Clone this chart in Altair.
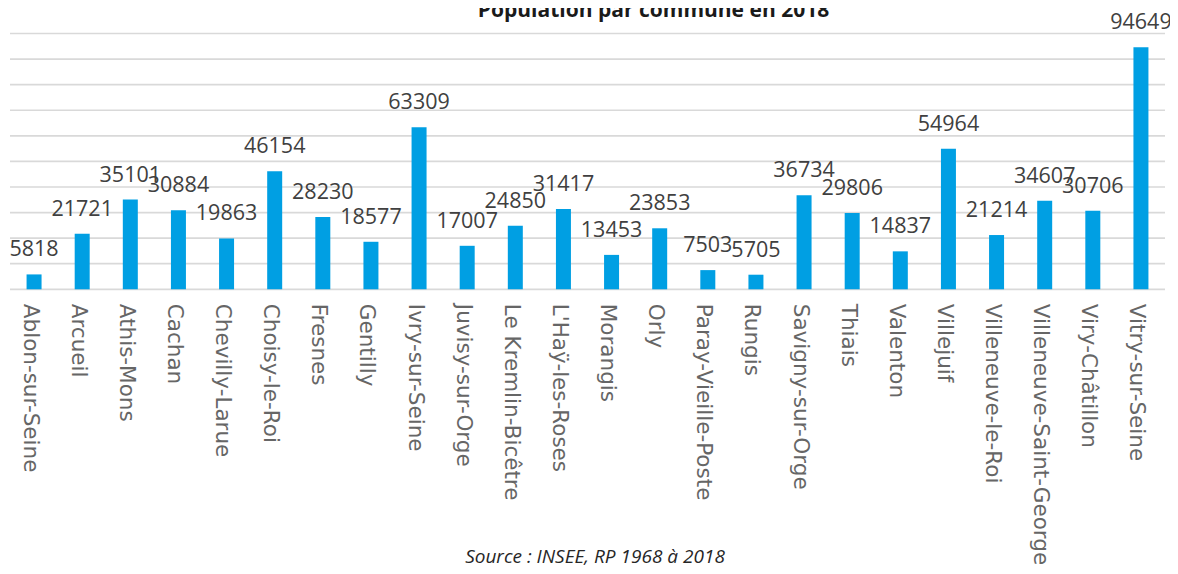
import altair as alt
import pandas as pd

communes = [
    "Ablon-sur-Seine", "Arcueil", "Athis-Mons", "Cachan", "Chevilly-Larue",
    "Choisy-le-Roi", "Fresnes", "Gentilly", "Ivry-sur-Seine", "Juvisy-sur-Orge",
    "Le Kremlin-Bicêtre", "L'Haÿ-les-Roses", "Morangis", "Orly",
    "Paray-Vieille-Poste", "Rungis", "Savigny-sur-Orge", "Thiais", "Valenton",
    "Villejuif", "Villeneuve-le-Roi", "Villeneuve-Saint-Georges",
    "Viry-Châtillon", "Vitry-sur-Seine",
]
population = [
    5818, 21721, 35101, 30884, 19863, 46154, 28230, 18577, 63309, 17007,
    24850, 31417, 13453, 23853, 7503, 5705, 36734, 29806, 14837, 54964,
    21214, 34607, 30706, 94649,
]
grid_values = [0, 10000, 20000, 30000, 40000, 50000, 60000, 70000, 80000, 90000, 100000]
title_text = "Population par commune en 2018"
source_text = "Source : INSEE, RP 1968 à 2018"

df = pd.DataFrame({"commune": communes, "population": population})
grid_df = pd.DataFrame({"g": grid_values})

y_scale = alt.Scale(domain=[0, 100000], nice=False)

x_enc = alt.X(
    "commune:N",
    sort=communes,
    title=None,
    scale=alt.Scale(paddingInner=0, paddingOuter=0),
    axis=alt.Axis(
        labelAngle=90,
        labelAlign="left",
        labelBaseline="alphabetic",
        labelOffset=-10.5,
        labelPadding=14,
        ticks=False,
        tickSize=0,
        domain=False,
        grid=False,
        labelFont="DejaVu Sans",
        labelFontSize=21.5,
        labelColor="#666666",
        labelLimit=400,
        labelOverlap=False,
    ),
)
y_enc = alt.Y("population:Q", title=None, scale=y_scale, axis=None)

gridlines = alt.Chart(grid_df).mark_rule(color="#D9D9D9", strokeWidth=1.7).encode(
    y=alt.Y("g:Q", scale=y_scale, axis=None),
    x=alt.value(0),
    x2=alt.value(1155),
)

base = alt.Chart(df)
bars = base.mark_bar(size=15, color="#009FE3").encode(x=x_enc, y=y_enc)
labels = base.mark_text(
    dy=-18,
    baseline="alphabetic",
    align="center",
    font="Open Sans",
    fontSize=21.5,
    color="#404040",
).encode(x=alt.X("commune:N", sort=communes), y="population:Q", text="population:Q")

title = alt.Chart(pd.DataFrame({"t": [title_text]})).mark_text(
    font="Open Sans",
    fontSize=21,
    fontWeight="bold",
    color="#1a1a1a",
    align="center",
    baseline="alphabetic",
).encode(text="t:N", x=alt.value(643.5), y=alt.value(-17))

source = alt.Chart(pd.DataFrame({"s": [source_text]})).mark_text(
    font="Open Sans",
    fontSize=19,
    fontStyle="italic",
    color="#262626",
    align="center",
    baseline="alphabetic",
).encode(text="s:N", x=alt.value(585), y=alt.value(529.5))

chart = (
    alt.layer(gridlines, bars, labels, title, source)
    .properties(
        width=1155,
        height=255.8,
        autosize=alt.AutoSizeParams(type="none"),
        padding={"left": 2, "top": 25.5, "right": 5, "bottom": 276.7},
        background="white",
    )
    .configure_view(stroke=None)
)

chart.save("out.html", embed_options={"renderer": "svg", "actions": False})
